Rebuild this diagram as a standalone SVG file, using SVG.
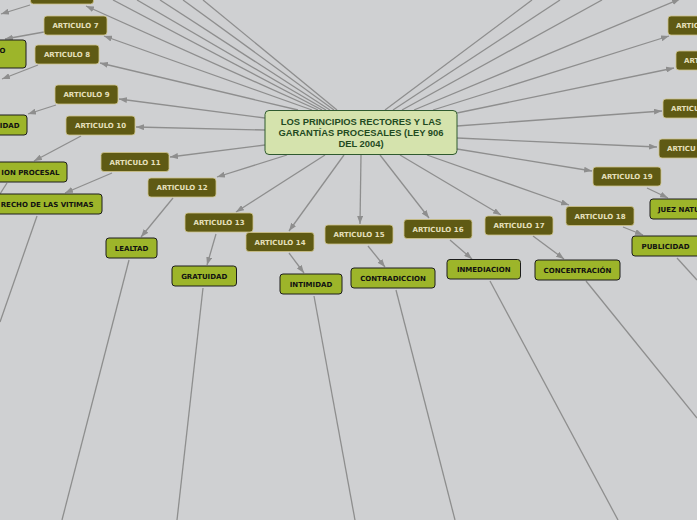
<svg xmlns="http://www.w3.org/2000/svg" width="697" height="520" viewBox="0 0 697 520">
<defs>
<marker id="ah" viewBox="0 0 8 6" refX="8" refY="3" markerWidth="8" markerHeight="6" markerUnits="userSpaceOnUse" orient="auto">
<path d="M0,0 L8,3 L0,6 z" fill="#8e8e8e"/>
</marker>
<style>
.bg{fill:#cfd0d2}
.ln{stroke:#8e8e8e;stroke-width:1.3;fill:none}
.ar{marker-end:url(#ah)}
.art rect{fill:#5f5a14;stroke:#cfc48a;stroke-width:0.8}
.art text{font-family:"DejaVu Sans",Verdana,sans-serif;font-weight:bold;font-size:7px;fill:#e6e0bc}
.grn rect{fill:#9db52a;stroke:#1c1c1c;stroke-width:1}
.grn text{font-family:"DejaVu Sans",Verdana,sans-serif;font-weight:bold;font-size:7px;fill:#111}
.ctr rect{fill:#d5e3ad;stroke:#2f5a2f;stroke-width:1}
.ctr text{font-family:"Liberation Sans",Arial,sans-serif;font-weight:bold;font-size:9.4px;fill:#1f4a1f;text-anchor:middle}
.c{text-anchor:middle}
.e{text-anchor:end}
</style>
</defs>
<rect class="bg" x="0" y="0" width="697" height="520"/>
<g id="connectors">
<!-- centre to articles, left -->
<line class="ln" x1="322" y1="110" x2="113" y2="0"/>
<line class="ln" x1="326" y1="110" x2="137" y2="0"/>
<line class="ln" x1="330" y1="110" x2="160" y2="0"/>
<line class="ln" x1="334" y1="110" x2="183" y2="0"/>
<line class="ln" x1="337" y1="110" x2="203" y2="0"/>
<line class="ln ar" x1="318" y1="110" x2="86" y2="6"/>
<line class="ln ar" x1="312" y1="110" x2="104" y2="36"/>
<line class="ln ar" x1="298" y1="110" x2="100" y2="63"/>
<line class="ln ar" x1="265" y1="118" x2="119" y2="99"/>
<line class="ln ar" x1="265" y1="130" x2="136" y2="127"/>
<line class="ln ar" x1="265" y1="145" x2="170" y2="157"/>
<line class="ln ar" x1="287" y1="155" x2="217" y2="177"/>
<line class="ln ar" x1="325" y1="155" x2="236" y2="212"/>
<line class="ln ar" x1="344" y1="155" x2="289" y2="231"/>
<line class="ln ar" x1="361" y1="155" x2="360" y2="224"/>
<line class="ln ar" x1="380" y1="155" x2="429" y2="218"/>
<line class="ln ar" x1="400" y1="155" x2="501" y2="215"/>
<line class="ln ar" x1="427" y1="155" x2="569" y2="205"/>
<line class="ln ar" x1="457" y1="149" x2="592" y2="171"/>
<line class="ln ar" x1="457" y1="138" x2="657" y2="147"/>
<line class="ln ar" x1="457" y1="126" x2="662" y2="111"/>
<line class="ln ar" x1="457" y1="113" x2="674" y2="68"/>
<line class="ln ar" x1="433" y1="110" x2="669" y2="36"/>
<line class="ln ar" x1="414" y1="110" x2="680" y2="-1"/>
<line class="ln" x1="402" y1="110" x2="602" y2="0"/>
<line class="ln" x1="393" y1="110" x2="560" y2="0"/>
<line class="ln" x1="385" y1="110" x2="532" y2="0"/>
<!-- articles to principles -->
<line class="ln ar" x1="30" y1="5" x2="1" y2="14"/>
<line class="ln ar" x1="44" y1="32" x2="5" y2="39"/>
<line class="ln ar" x1="38" y1="65" x2="2" y2="79"/>
<line class="ln ar" x1="56" y1="105" x2="28" y2="114"/>
<line class="ln ar" x1="81" y1="136" x2="34" y2="161"/>
<line class="ln ar" x1="112" y1="173" x2="65" y2="193"/>
<line class="ln ar" x1="173" y1="198" x2="141" y2="237"/>
<line class="ln ar" x1="216" y1="234" x2="207" y2="265"/>
<line class="ln ar" x1="289" y1="253" x2="304" y2="273"/>
<line class="ln ar" x1="368" y1="246" x2="385" y2="267"/>
<line class="ln ar" x1="450" y1="240" x2="472" y2="259"/>
<line class="ln ar" x1="533" y1="236" x2="564" y2="259"/>
<line class="ln ar" x1="623" y1="227" x2="643" y2="235"/>
<line class="ln ar" x1="647" y1="188" x2="668" y2="198"/>
<!-- principles downward -->
<line class="ln" x1="7" y1="183" x2="0" y2="194"/>
<line class="ln" x1="37" y1="216" x2="0" y2="322"/>
<line class="ln" x1="129" y1="260" x2="62" y2="520"/>
<line class="ln" x1="203" y1="288" x2="177" y2="520"/>
<line class="ln" x1="314" y1="296" x2="355" y2="520"/>
<line class="ln" x1="396" y1="290" x2="455" y2="520"/>
<line class="ln" x1="490" y1="281" x2="618" y2="520"/>
<line class="ln" x1="586" y1="281" x2="697" y2="418"/>
<line class="ln" x1="677" y1="258" x2="697" y2="280"/>
</g>
<g id="center" class="ctr">
<rect x="265" y="110.5" width="192" height="44" rx="4"/>
<text x="361" y="125">LOS PRINCIPIOS RECTORES Y LAS</text>
<text x="361" y="136">GARANTÍAS PROCESALES (LEY 906</text>
<text x="361" y="147">DEL 2004)</text>
</g>
<g id="art6" class="art"><rect x="30.5" y="-15" width="63" height="19" rx="3"/></g>
<g id="art7" class="art"><rect x="44" y="16" width="63" height="19" rx="3"/><text class="c" x="75.5" y="28">ARTICULO 7</text></g>
<g id="art8" class="art"><rect x="35" y="45" width="64" height="19" rx="3"/><text class="c" x="67" y="57">ARTICULO 8</text></g>
<g id="art9" class="art"><rect x="55" y="85" width="63" height="19" rx="3"/><text class="c" x="86.5" y="97">ARTICULO 9</text></g>
<g id="art10" class="art"><rect x="66" y="116" width="69" height="19" rx="3"/><text class="c" x="100.5" y="128">ARTICULO 10</text></g>
<g id="art11" class="art"><rect x="101" y="152.5" width="68" height="19" rx="3"/><text class="c" x="135" y="164.5">ARTICULO 11</text></g>
<g id="art12" class="art"><rect x="148" y="178" width="68" height="19" rx="3"/><text class="c" x="182" y="190">ARTICULO 12</text></g>
<g id="art13" class="art"><rect x="185" y="213" width="68" height="19" rx="3"/><text class="c" x="219" y="225">ARTICULO 13</text></g>
<g id="art14" class="art"><rect x="246" y="232.5" width="68" height="19" rx="3"/><text class="c" x="280" y="244.5">ARTICULO 14</text></g>
<g id="art15" class="art"><rect x="325" y="225" width="68" height="19" rx="3"/><text class="c" x="359" y="237">ARTICULO 15</text></g>
<g id="art16" class="art"><rect x="404" y="219.5" width="68" height="19" rx="3"/><text class="c" x="438" y="231.5">ARTICULO 16</text></g>
<g id="art17" class="art"><rect x="485" y="216" width="68" height="19" rx="3"/><text class="c" x="519" y="228">ARTICULO 17</text></g>
<g id="art18" class="art"><rect x="566" y="206.5" width="68" height="19" rx="3"/><text class="c" x="600" y="218.5">ARTICULO 18</text></g>
<g id="art19" class="art"><rect x="593" y="167" width="68" height="19" rx="3"/><text class="c" x="627" y="179">ARTICULO 19</text></g>
<g id="artR1" class="art"><rect x="668" y="16" width="68" height="19" rx="3"/><text x="676" y="28">ARTIC</text></g>
<g id="artR2" class="art"><rect x="676" y="51" width="68" height="19" rx="3"/><text x="684" y="63">ART</text></g>
<g id="artR3" class="art"><rect x="663" y="99" width="68" height="19" rx="3"/><text x="671" y="111">ARTICU</text></g>
<g id="artR4" class="art"><rect x="659" y="139" width="68" height="19" rx="3"/><text x="667" y="151">ARTICU</text></g>
<g id="pO" class="grn"><rect x="-60" y="40" width="86" height="28" rx="3"/><text class="e" x="5.5" y="52.5">O</text></g>
<g id="pIDAD" class="grn"><rect x="-40" y="115" width="67" height="20" rx="3"/><text class="e" x="19.5" y="127.5">IDAD</text></g>
<g id="pProcesal" class="grn"><rect x="-50" y="162" width="117" height="20" rx="3"/><text class="e" x="59.5" y="174.5">ION PROCESAL</text></g>
<g id="pVitimas" class="grn"><rect x="-30" y="194" width="132" height="20" rx="3"/><text class="e" x="93.5" y="206.5">RECHO DE LAS VITIMAS</text></g>
<g id="pLealtad" class="grn"><rect x="106" y="238" width="51" height="20" rx="3"/><text class="c" x="131.5" y="250.5">LEALTAD</text></g>
<g id="pGratuidad" class="grn"><rect x="172" y="266" width="64.5" height="20" rx="3"/><text class="c" x="204.2" y="278.5">GRATUIDAD</text></g>
<g id="pIntimidad" class="grn"><rect x="280" y="274" width="62" height="20" rx="3"/><text class="c" x="311" y="286.5">INTIMIDAD</text></g>
<g id="pContradiccion" class="grn"><rect x="351" y="268" width="84" height="20" rx="3"/><text class="c" x="393" y="280.5">CONTRADICCION</text></g>
<g id="pInmediacion" class="grn"><rect x="447" y="259.5" width="73.5" height="19.5" rx="3"/><text class="c" x="483.7" y="272">INMEDIACION</text></g>
<g id="pConcentracion" class="grn"><rect x="535" y="260" width="85" height="20" rx="3"/><text class="c" x="577.5" y="272.5">CONCENTRACIÓN</text></g>
<g id="pPublicidad" class="grn"><rect x="632" y="236" width="68" height="20" rx="3"/><text class="c" x="665.5" y="248.5">PUBLICIDAD</text></g>
<g id="pJuez" class="grn"><rect x="650" y="199" width="70" height="20" rx="3"/><text x="658" y="211.5">JUEZ NATU</text></g>
</svg>
